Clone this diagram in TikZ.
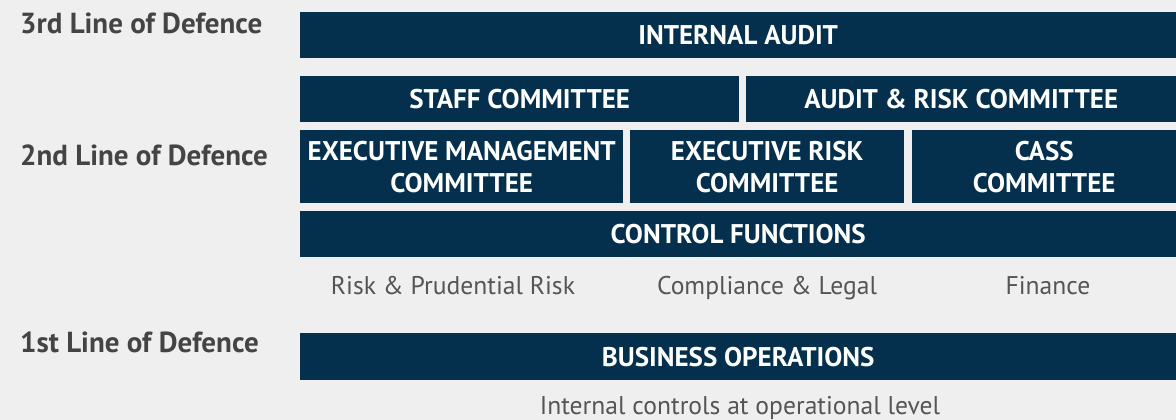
\documentclass[tikz,border=0pt]{standalone}
\usepackage{fontspec}
\setmainfont{PT Sans}
\definecolor{navy}{HTML}{04304D}
\definecolor{bgc}{HTML}{EFEFEF}
\definecolor{lbl}{HTML}{444444}
\definecolor{sub}{HTML}{555555}
\begin{document}
\begin{tikzpicture}[x=1pt,y=-1pt,
  box/.style={fill=navy,text=white,inner sep=0pt,anchor=north west,align=center,
    font=\bfseries\fontsize{27}{32}\selectfont},
  linelbl/.style={anchor=base west,text=lbl,inner sep=0pt,font=\bfseries\fontsize{29}{32}\selectfont},
  sublbl/.style={anchor=base,text=sub,inner sep=0pt,font=\fontsize{25.6}{30}\selectfont}]
\fill[bgc] (0,0) rectangle (1176,420);
\useasboundingbox (0,0) rectangle (1176,420);
\node[box,minimum width=876pt,minimum height=46pt] (ia) at (300,12) {INTERNAL AUDIT};
\node[box,minimum width=439pt,minimum height=46pt] (sc) at (300,76) {STAFF COMMITTEE};
\node[box,minimum width=430pt,minimum height=46pt] (arc) at (746,76) {AUDIT \& RISK COMMITTEE};
\node[box,minimum width=323pt,minimum height=73pt] (emc) at (300,130) {EXECUTIVE MANAGEMENT\\COMMITTEE};
\node[box,minimum width=274pt,minimum height=73pt] (erc) at (630,130) {EXECUTIVE RISK\\COMMITTEE};
\node[box,minimum width=264pt,minimum height=73pt] (cass) at (912,130) {CASS\\COMMITTEE};
\node[box,minimum width=876pt,minimum height=46pt] (cf) at (300,211) {CONTROL FUNCTIONS};
\node[box,minimum width=876pt,minimum height=47pt] (bo) at (300,333) {BUSINESS OPERATIONS};
\node[linelbl] (l3) at (20,34) {3rd Line of Defence};
\node[linelbl] (l2) at (20,165) {2nd Line of Defence};
\node[linelbl] (l1) at (20,352) {1st Line of Defence};
\node[sublbl] (r1) at (453,294) {Risk \& Prudential Risk};
\node[sublbl] (r2) at (767,294) {Compliance \& Legal};
\node[sublbl] (r3) at (1048,294) {Finance};
\node[sublbl] (ic) at (740,414) {Internal controls at operational level};
\end{tikzpicture}
\end{document}
